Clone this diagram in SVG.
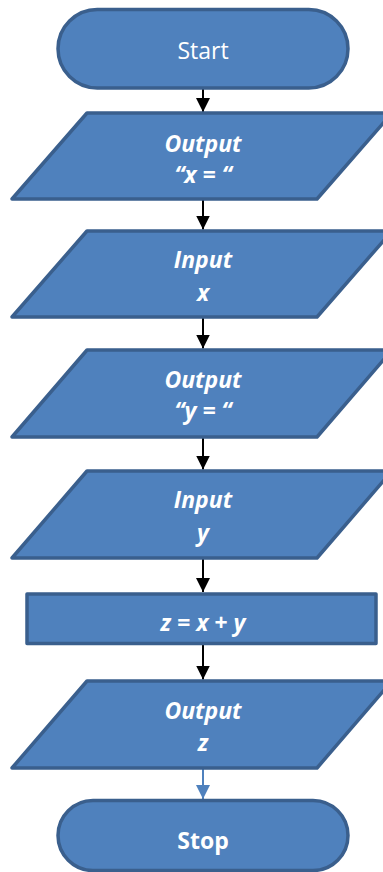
<svg xmlns="http://www.w3.org/2000/svg" width="383" height="872" viewBox="0 0 383 872">
<defs>
<style>
.shape{fill:#4F81BD;stroke:#3A5F8D;stroke-width:3.5;stroke-linejoin:round}
.t{fill:#ffffff;font-family:"Open Sans","Noto Sans","Liberation Sans",sans-serif;font-size:23px;text-anchor:middle}
.bi{font-weight:bold;font-style:italic}
.b{font-weight:bold}
.conn{stroke:#000;stroke-width:2;fill:none}
.connb{stroke:#4F81BD;stroke-width:2;fill:none}
</style>
<marker id="ah" markerWidth="14" markerHeight="14" viewBox="0 0 14 14" refX="14" refY="7" orient="auto" markerUnits="userSpaceOnUse">
<path d="M0,0 L14,7 L0,14 Z" fill="#000"/>
</marker>
<marker id="ahb" markerWidth="14" markerHeight="14" viewBox="0 0 14 14" refX="14" refY="7" orient="auto" markerUnits="userSpaceOnUse">
<path d="M0,0 L14,7 L0,14 Z" fill="#4F81BD"/>
</marker>
</defs>
<g id="connectors">
<line class="conn" x1="203" y1="88" x2="203" y2="112" marker-end="url(#ah)"/>
<line class="conn" x1="203" y1="199" x2="203" y2="229.5" marker-end="url(#ah)"/>
<line class="conn" x1="203" y1="317" x2="203" y2="348.5" marker-end="url(#ah)"/>
<line class="conn" x1="203" y1="437" x2="203" y2="469.5" marker-end="url(#ah)"/>
<line class="conn" x1="203" y1="558" x2="203" y2="592" marker-end="url(#ah)"/>
<line class="conn" x1="203" y1="644" x2="203" y2="679.5" marker-end="url(#ah)"/>
<line class="connb" x1="203" y1="768" x2="203" y2="799" marker-end="url(#ahb)"/>
</g>
<g id="start">
<rect class="shape" x="58" y="9.5" width="290" height="78.5" rx="39.25" ry="39.25"/>
<text class="t" x="203" y="59">Start</text>
</g>
<g id="output-x">
<polygon class="shape" points="87,113 392,113 317,199 12,199"/>
<text class="t bi" x="203" y="152">Output</text>
<text class="t bi" x="203" y="183">“x = “</text>
</g>
<g id="input-x">
<polygon class="shape" points="87,231 392,231 317,317 12,317"/>
<text class="t bi" x="203" y="268">Input</text>
<text class="t bi" x="203" y="301">x</text>
</g>
<g id="output-y">
<polygon class="shape" points="87,350 392,350 317,437 12,437"/>
<text class="t bi" x="203" y="388">Output</text>
<text class="t bi" x="203" y="419">“y = “</text>
</g>
<g id="input-y">
<polygon class="shape" points="87,471 392,471 317,558 12,558"/>
<text class="t bi" x="203" y="508">Input</text>
<text class="t bi" x="203" y="541">y</text>
</g>
<g id="process">
<rect class="shape" x="27" y="594" width="349" height="49.5" stroke-linejoin="miter"/>
<text class="t bi" x="203" y="631">z = x + y</text>
</g>
<g id="output-z">
<polygon class="shape" points="87,681 392,681 317,768 12,768"/>
<text class="t bi" x="203" y="719">Output</text>
<text class="t bi" x="203" y="751">z</text>
</g>
<g id="stop">
<rect class="shape" x="58" y="800.5" width="290" height="70" rx="35" ry="35"/>
<text class="t b" x="203" y="849">Stop</text>
</g>
</svg>
